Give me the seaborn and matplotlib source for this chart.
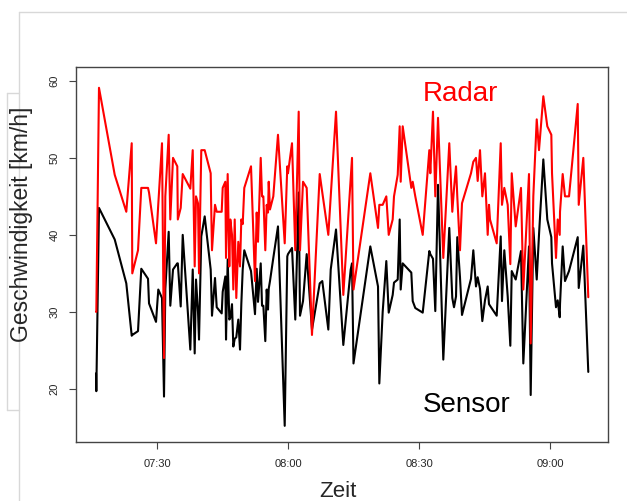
import numpy as np
import pandas as pd
import matplotlib
matplotlib.use("Agg")
import matplotlib.pyplot as plt
import matplotlib.dates as mdates
from matplotlib.lines import Line2D
import seaborn as sns

# Zeitpunkte (Minuten nach 07:00) und gemessene Geschwindigkeiten
minutes = [16.04, 16.11, 16.72, 20.32, 22.97, 24.21, 24.34, 25.65, 26.40, 27.94,
           28.17, 29.77, 30.29, 31.14, 31.60, 31.90, 32.67, 33.04, 33.66, 34.64,
           34.76, 35.42, 35.88, 37.62, 38.17, 38.62, 38.92, 39.38, 39.61, 40.13,
           40.91, 42.28, 42.42, 42.58, 43.27, 43.66, 44.80, 45.03, 45.63, 45.79,
           46.17, 46.54, 46.77, 47.16, 47.46, 47.78, 48.14, 48.60, 48.99, 49.29,
           49.61, 49.97, 51.51, 52.42, 52.81, 53.11, 53.73, 54.03, 54.33, 54.78,
           55.10, 55.40, 55.56, 55.85, 56.61, 57.68, 59.22, 59.81, 59.97, 60.89,
           61.64, 62.42, 62.72, 63.41, 64.25, 65.46, 67.23, 67.82, 69.20, 69.75,
           70.96, 72.63, 74.32, 74.62, 74.96, 78.81, 80.57, 80.87, 81.64, 82.47,
           83.02, 83.93, 84.23, 85.08, 85.53, 85.76, 86.22, 88.19, 88.51, 89.10,
           90.80, 92.31, 92.54, 93.15, 93.68, 94.30, 95.51, 96.88, 97.57, 97.96,
           98.42, 98.71, 99.33, 99.79, 101.85, 102.38, 102.99, 103.38, 103.91, 104.44,
           105.05, 105.67, 105.97, 106.20, 107.73, 108.65, 108.94, 109.47, 110.25, 110.85,
           111.17, 112.08, 113.29, 113.82, 115.12, 115.51, 116.11, 116.89, 117.41, 118.40,
           119.31, 120.23, 120.39, 121.30, 121.69, 122.15, 122.22, 122.83, 123.36, 124.28,
           126.27, 126.50, 127.55, 128.69]

radar = [30, 30, 59.1, 47.8, 43.0, 51.9, 35.0, 38.0, 46.1, 46.1,
         45.5, 38.9, 44.0, 51.9, 24.0, 45.0, 53.0, 42.0, 50.0, 48.9,
         42.0, 43.5, 47.9, 46.0, 51.0, 35.9, 45.0, 44.1, 35.0, 51.0,
         51.0, 48.0, 42.9, 38.0, 43.9, 43.0, 43.0, 46.1, 46.9, 37.0,
         47.9, 35.9, 42.0, 40.0, 32.9, 42.0, 31.8, 39.1, 35.9, 42.0,
         41.4, 46.1, 48.9, 34.0, 42.9, 39.1, 50.0, 45.0, 45.0, 38.0,
         43.9, 42.9, 46.9, 43.3, 45.0, 53.0, 38.9, 48.9, 48.0, 51.9,
         38.0, 56.0, 38.0, 46.9, 46.1, 27.0, 47.9, 45.5, 40.0, 45.0,
         56.0, 32.2, 47.5, 50.0, 32.9, 48.0, 40.9, 43.9, 43.9, 45.0,
         40.0, 42.0, 45.0, 47.8, 54.1, 46.9, 54.1, 46.1, 46.9, 45.0,
         40.0, 51.0, 48.0, 56.0, 45.0, 55.2, 37.0, 51.9, 43.0, 46.0,
         48.9, 45.0, 38.0, 44.1, 48.0, 49.5, 50.0, 47.0, 51.0, 45.0,
         48.0, 40.0, 43.9, 42.0, 38.9, 51.9, 43.9, 46.1, 43.9, 36.2,
         48.0, 41.1, 46.1, 32.9, 47.9, 25.9, 45.0, 55.0, 51.0, 58.0,
         54.1, 53.0, 48.0, 37.0, 42.0, 40.0, 43.0, 47.9, 45.0, 45.0,
         57.0, 43.9, 50.0, 31.9]

sensor = [22, 19.7, 43.5, 39.4, 33.7, 26.9, 27.0, 27.5, 35.6, 34.3,
          31.1, 28.7, 32.9, 31.8, 19.0, 33.0, 40.4, 30.8, 35.5, 36.3,
          36.3, 30.7, 40.0, 25.1, 35.5, 24.6, 34.2, 30.0, 26.4, 39.8,
          42.4, 35.5, 33.0, 29.5, 34.4, 30.6, 29.8, 32.6, 34.6, 26.4,
          36.8, 29.0, 29.2, 31.0, 25.5, 26.5, 26.7, 29.0, 25.1, 31.0,
          35.5, 38.0, 35.3, 29.7, 35.6, 31.3, 36.3, 30.8, 30.8, 26.2,
          32.9, 30.3, 33.0, 34.0, 37.0, 41.1, 15.2, 37.2, 37.5, 38.3,
          29.0, 45.5, 29.5, 31.4, 37.5, 27.7, 33.7, 34.0, 27.7, 35.5,
          40.7, 25.7, 35.5, 36.3, 23.3, 38.5, 33.3, 20.7, 30.0, 36.6,
          29.9, 32.2, 33.8, 34.2, 42.0, 32.9, 36.3, 35.1, 31.4, 30.5,
          29.9, 37.9, 37.5, 36.9, 30.1, 46.5, 23.8, 40.9, 31.8, 30.6,
          32.0, 39.7, 34.5, 29.6, 34.3, 38.0, 33.3, 34.5, 33.0, 28.8,
          31.5, 33.3, 31.0, 30.8, 29.5, 39.8, 31.4, 38.0, 32.0, 25.6,
          35.3, 34.2, 37.9, 23.3, 38.5, 19.2, 40.9, 34.2, 40.0, 49.8,
          42.0, 39.7, 36.3, 30.6, 31.5, 29.3, 31.0, 38.5, 34.0, 35.3,
          39.7, 33.1, 38.6, 22.2]

start = pd.Timestamp("2013-06-04 07:00")
df = pd.DataFrame({
    "Zeit": start + pd.to_timedelta(minutes, unit="min"),
    "Radar": radar,
    "Sensor": sensor,
})

sns.set_style("white")
plt.rcParams["font.family"] = ["Liberation Sans", "DejaVu Sans"]

W, H = 627, 501
fig = plt.figure(figsize=(W / 100, H / 100), dpi=100)
ax = fig.add_axes([76 / W, 1 - 442 / H, (608 - 76) / W, (442 - 67) / H])

sns.lineplot(data=df, x="Zeit", y="Sensor", color="black", lw=1.5,
             estimator=None, sort=False, ax=ax)
sns.lineplot(data=df, x="Zeit", y="Radar", color="#ff0000", lw=1.5,
             estimator=None, sort=False, ax=ax)

ax.set_xlim(start + pd.Timedelta(minutes=11.46), start + pd.Timedelta(minutes=133.2))
ax.set_ylim(13.1, 61.8)
ax.xaxis.set_major_locator(mdates.MinuteLocator(byminute=[0, 30]))
ax.xaxis.set_major_formatter(mdates.DateFormatter("%H:%M"))
ax.set_yticks([20, 30, 40, 50, 60])
ax.set_xlabel("")
ax.set_ylabel("")

for s in ax.spines.values():
    s.set_visible(True)
    s.set_color("#444444")
    s.set_linewidth(1.0)
ax.tick_params(axis="both", direction="out", length=5, width=0.8, color="#444444",
               labelsize=8, bottom=True, left=True, pad=7)
for lab in ax.get_yticklabels():
    lab.set_rotation(90)
    lab.set_va("center")

# Beschriftungen wie im Original
fig.text(338 / W, 1 - 497 / H, "Zeit", fontsize=16, ha="center", va="baseline")
fig.text(22 / W, 1 - 224 / H, "Geschwindigkeit [km/h]", fontsize=16.5,
         rotation=90, ha="center", va="center")
fig.text(460 / W, 1 - 101 / H, "Radar", fontsize=20, color="#ff0000",
         ha="center", va="baseline")
fig.text(467 / W, 1 - 412 / H, "Sensor", fontsize=20, color="black",
         ha="center", va="baseline")

# hellgraue Rahmenlinien am Bildrand
grey = "#d8d8d8"
fig.add_artist(Line2D([19 / W, 1], [1 - 12 / H, 1 - 12 / H], color=grey, lw=1))
fig.add_artist(Line2D([19 / W, 19 / W], [1 - 12 / H, 0], color=grey, lw=1))
fig.add_artist(Line2D([7 / W, 7 / W], [1 - 93 / H, 1 - 410 / H], color=grey, lw=1))
fig.add_artist(Line2D([7 / W, 19 / W], [1 - 93 / H, 1 - 93 / H], color=grey, lw=1))
fig.add_artist(Line2D([7 / W, 19 / W], [1 - 410 / H, 1 - 410 / H], color=grey, lw=1))

fig.savefig("out.png", dpi=100)
